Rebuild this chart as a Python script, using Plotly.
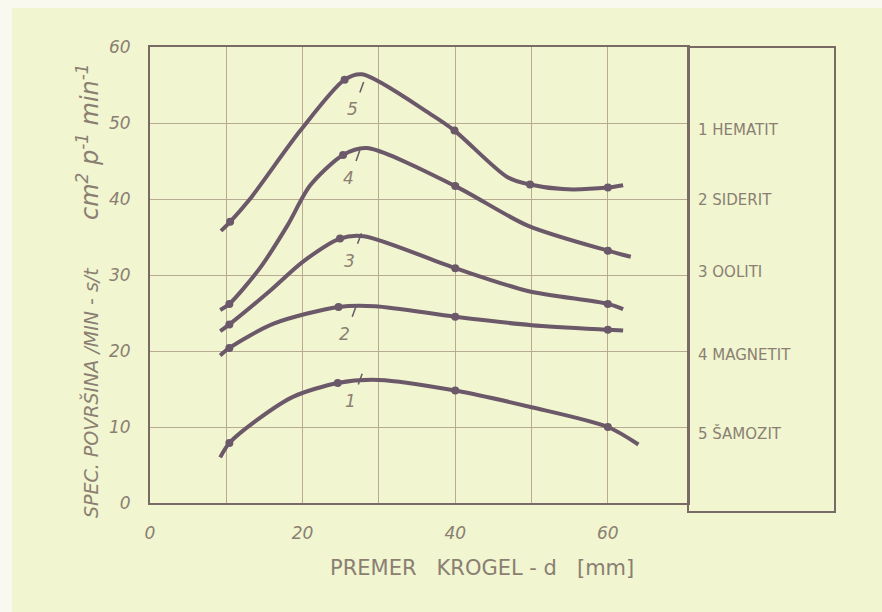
import plotly.graph_objects as go

# ---- data ----
names = ["HEMATIT", "SIDERIT", "OOLITI", "MAGNETIT", "ŠAMOZIT"]
numbers = ["1", "2", "3", "4", "5"]

# traced curve points (x = ball diameter mm, y = specific surface)
c1_x = [9.2, 10.4, 14.4, 18.8, 24.6, 30.0, 40.0, 50.0, 60.0, 64.0]
c1_y = [6.0, 7.9, 11.2, 14.0, 15.8, 16.2, 14.8, 12.6, 10.0, 7.7]
c2_x = [9.2, 10.4, 16.2, 24.7, 29.5, 40.0, 50.0, 60.0, 62.0]
c2_y = [19.4, 20.4, 23.6, 25.8, 25.9, 24.5, 23.4, 22.8, 22.7]
c3_x = [9.2, 10.4, 15.7, 20.1, 24.9, 28.0, 40.0, 49.5, 60.0, 62.0]
c3_y = [22.6, 23.5, 27.9, 31.8, 34.8, 35.1, 30.9, 27.9, 26.2, 25.5]
c4_x = [9.2, 10.4, 14.4, 18.0, 21.0, 25.3, 28.4, 40.0, 49.5, 60.0, 63.0]
c4_y = [25.4, 26.2, 30.9, 36.5, 41.8, 45.8, 46.7, 41.7, 36.5, 33.2, 32.4]
c5_x = [9.3, 10.5, 13.1, 19.7, 25.5, 27.8, 36.7, 39.9, 46.8, 49.8, 54.1, 60.0, 62.0]
c5_y = [35.8, 37.0, 40.0, 49.0, 55.7, 56.4, 51.2, 49.0, 42.9, 41.9, 41.3, 41.5, 41.8]

# measured points (dots)
d1_x = [10.4, 24.6, 40.0, 60.0]
d1_y = [7.9, 15.8, 14.8, 10.0]
d2_x = [10.4, 24.7, 40.0, 60.0]
d2_y = [20.4, 25.8, 24.5, 22.8]
d3_x = [10.4, 24.9, 40.0, 60.0]
d3_y = [23.5, 34.8, 30.9, 26.2]
d4_x = [10.4, 25.3, 40.0, 60.0]
d4_y = [26.2, 45.8, 41.7, 33.2]
d5_x = [10.5, 25.5, 39.9, 49.8, 60.0]
d5_y = [37.0, 55.7, 49.0, 41.9, 41.5]

# curve number labels
lab_x = [26.3, 25.5, 26.2, 26.0, 26.5]
lab_y = [13.4, 22.3, 31.9, 42.8, 51.8]

x_ticks = [0, 20, 40, 60]
x_minor = [10, 30, 50]
y_ticks = [0, 10, 20, 30, 40, 50, 60]

curves = [(c1_x, c1_y), (c2_x, c2_y), (c3_x, c3_y), (c4_x, c4_y), (c5_x, c5_y)]
dots = [(d1_x, d1_y), (d2_x, d2_y), (d3_x, d3_y), (d4_x, d4_y), (d5_x, d5_y)]

INK = "#6b5869"
TXT = "#8a7f72"
GRID = "#b9ab92"
FRAME = "#7a6a66"
PAPER = "#f1f5d0"

fig = go.Figure()
for (cx, cy), (dx, dy), nm in zip(curves, dots, names):
    fig.add_trace(go.Scatter(x=cx, y=cy, mode="lines", name=nm,
                             line=dict(color=INK, width=4, shape="spline", smoothing=0.8),
                             hoverinfo="skip"))
    fig.add_trace(go.Scatter(x=dx, y=dy, mode="markers", name=nm,
                             marker=dict(color=INK, size=8)))

# small pointer ticks linking each number to its curve
for lx, ly in zip(lab_x, lab_y):
    fig.add_trace(go.Scatter(x=[lx + 1.0, lx + 1.5], y=[ly + 2.2, ly + 3.6], mode="lines",
                             line=dict(color=INK, width=1.5), hoverinfo="skip"))

# curve number labels
for n, lx, ly in zip(numbers, lab_x, lab_y):
    fig.add_annotation(x=lx, y=ly, text=n, showarrow=False,
                       font=dict(family="DejaVu Sans", size=17, color=TXT, style="italic"))

L, R, T, B = 150, 194, 47, 109
W, H = 882, 612
pw, ph = W - L - R, H - T - B

def px(xp):
    return (xp - L) / pw

def py(yp):
    return (H - B - yp) / ph

# legend box texts
leg_y = [130, 200, 272, 355, 433]
for n, nm, yy in zip(numbers, names, leg_y):
    fig.add_annotation(xref="paper", yref="paper", x=px(696), y=py(yy),
                       xanchor="left", yanchor="middle", text=f"{n} {nm}", showarrow=False,
                       font=dict(family="DejaVu Sans", size=15, color=TXT))

# axis titles
fig.add_annotation(xref="paper", yref="paper", x=px(90), y=py(393),
                   xanchor="center", yanchor="middle",
                   text="SPEC. POVRŠINA /MIN - s/t", textangle=-90, showarrow=False,
                   font=dict(family="DejaVu Sans", size=19, color=TXT, style="italic"))
fig.add_annotation(xref="paper", yref="paper", x=px(88), y=py(142),
                   xanchor="center", yanchor="middle",
                   text="cm<sup>2</sup> p<sup>-1</sup> min<sup>-1</sup>", textangle=-90,
                   showarrow=False,
                   font=dict(family="DejaVu Sans", size=24, color=TXT, style="italic"))
fig.add_annotation(xref="paper", yref="paper", x=px(482), y=py(568),
                   xanchor="center", yanchor="middle",
                   text="PREMER   KROGEL - d   [mm]", showarrow=False,
                   font=dict(family="DejaVu Sans", size=21, color=TXT))

# background paper and legend box
fig.add_shape(type="rect", xref="paper", yref="paper", x0=px(12), x1=px(882),
              y0=py(612), y1=py(8), fillcolor=PAPER, line=dict(width=0), layer="below")
fig.add_shape(type="rect", xref="paper", yref="paper", x0=1, x1=px(835),
              y0=py(512), y1=1, line=dict(color=FRAME, width=2))

fig.update_layout(
    width=W, height=H,
    margin=dict(l=L, r=R, t=T, b=B),
    paper_bgcolor="#f9f9ef",
    plot_bgcolor="rgba(0,0,0,0)",
    showlegend=False,
    xaxis=dict(range=[0, 70.5], tickvals=x_ticks,
               showgrid=True, gridcolor=GRID, gridwidth=1, zeroline=False,
               minor=dict(tickvals=x_minor, showgrid=True, gridcolor=GRID, gridwidth=1),
               showline=True, linecolor=FRAME, linewidth=2, mirror=True,
               ticks="outside", ticklen=14, tickcolor="rgba(0,0,0,0)",
               tickfont=dict(family="DejaVu Sans", size=17, color=TXT, style="italic")),
    yaxis=dict(range=[0, 60], tickvals=y_ticks,
               showgrid=True, gridcolor=GRID, gridwidth=1, zeroline=False,
               showline=True, linecolor=FRAME, linewidth=2, mirror=True,
               ticks="outside", ticklen=14, tickcolor="rgba(0,0,0,0)",
               tickfont=dict(family="DejaVu Sans", size=17, color=TXT, style="italic")),
)

fig.write_html("out.html")
